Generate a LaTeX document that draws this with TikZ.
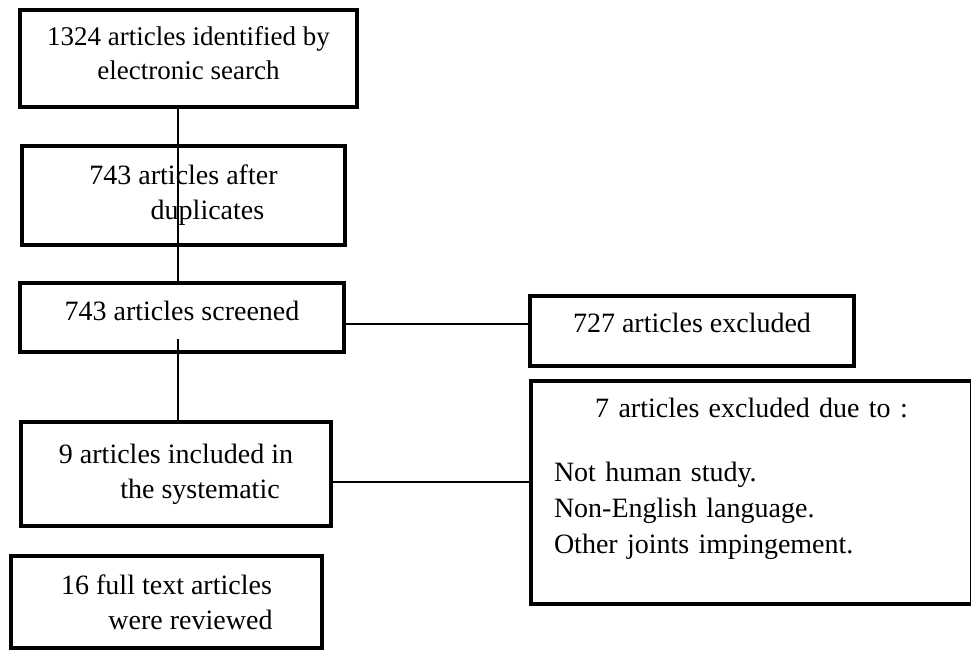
\documentclass[tikz,border=0pt]{standalone}
\usepackage{fontspec}
\setmainfont{Liberation Serif}

\tikzset{
  box/.style={draw,line width=2pt,rectangle,inner sep=0pt,align=center,
    font=\fontsize{14}{17.5}\selectfont},
  link/.style={line width=0.75pt}
}

\begin{document}
\begin{tikzpicture}[x=0.5pt,y=-0.5pt]
  \useasboundingbox (0,0) rectangle (971,651);
  % left column
  \node[box,minimum width=168.5pt,minimum height=48.5pt,text depth=5pt,
    font=\fontsize{13.5}{17}\selectfont] (search) at (188.5,58.5)
    {1324 articles identified by\\electronic search};
  \node[box,minimum width=161.5pt,minimum height=49.5pt] (dup) at (183.5,195.5)
    {743 articles after\\\hspace*{24pt}duplicates};
  \node[box,minimum width=162pt,minimum height=34.5pt,text depth=7pt] (screen) at (182,317.5)
    {743 articles screened};
  \node[box,minimum width=155pt,minimum height=52pt] (incl) at (176,474)
    {9 articles included in\\\hspace*{24pt}the systematic};
  \node[box,minimum width=155.5pt,minimum height=46pt] (full) at (166.5,602)
    {16 full text articles\\\hspace*{24pt}were reviewed};
  % right column
  \node[box,minimum width=162pt,minimum height=35pt,text depth=8.5pt] (excl) at (692,331)
    {727 articles excluded};
  \node[box,minimum width=220.5pt,minimum height=111.5pt,inner xsep=11.5pt,
    text width=197.5pt,align=left,text depth=85pt,
    font=\fontsize{14}{18}\selectfont] (reason) at (751.5,492.5)
    {\makebox[\linewidth]{7 articles excluded due to :}\\[14pt]
     Not human study.\\
     Non-English language.\\
     Other joints impingement.};
  % connectors
  \coordinate (trunk) at (178,0);
  \coordinate (rowA) at (0,324);
  \coordinate (rowB) at (0,482);
  \coordinate (cut) at ([yshift=7.5pt]screen.south);
  \draw[link] (search.south -| trunk) -- (dup.center -| trunk);
  \draw[link] (dup.center -| trunk) -- (screen.north -| trunk);
  \draw[link] (cut -| trunk) -- (incl.north -| trunk);
  \draw[link] (screen.east |- rowA) -- (excl.west |- rowA);
  \draw[link] (incl.east |- rowB) -- (reason.west |- rowB);
\end{tikzpicture}
\end{document}
